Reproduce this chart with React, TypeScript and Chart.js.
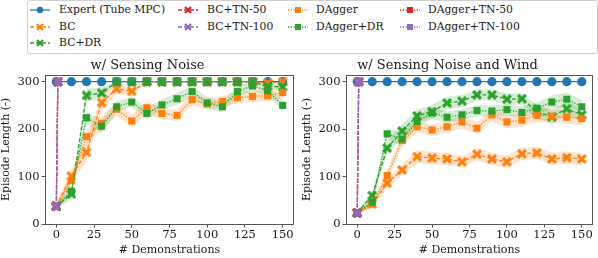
import React, { useEffect, useRef } from "react";
import { Chart, registerables } from "chart.js";
Chart.register(...registerables);

// ---------- data ----------
const demos = [0, 10, 20, 30, 40, 50, 60, 70, 80, 90, 100, 110, 120, 130, 140, 150];
const tnDemos = [0, 1];
const xTickValues = [0, 25, 50, 75, 100, 125, 150];
const yTickValues = [0, 100, 200, 300];
const seriesLabels = ["Expert (Tube MPC)", "BC", "BC+DR", "BC+TN-50", "BC+TN-100", "DAgger", "DAgger+DR", "DAgger+TN-50", "DAgger+TN-100"];
const panelTitles = ["w/ Sensing Noise", "w/ Sensing Noise and Wind"];
const xTitle = "# Demonstrations";
const yTitle = "Episode Length (-)";

// w/ Sensing Noise
const noiseExpert = [300, 300, 300, 300, 300, 300, 300, 300, 300, 300, 300, 300, 300, 300, 300, 300];
const noiseBC = [37, 101, 151, 256, 285, 280, 300, 300, 300, 300, 300, 300, 300, 300, 297, 300];
const noiseBCErr = [6, 14, 20, 18, 10, 12, 0, 0, 0, 0, 0, 0, 0, 0, 4, 3];
const noiseBCDR = [37, 63, 271, 276, 300, 300, 300, 300, 300, 300, 300, 300, 300, 300, 290, 289];
const noiseBCDRErr = [6, 10, 14, 12, 0, 0, 0, 0, 0, 0, 0, 0, 0, 0, 6, 6];
const noiseBCTN50 = [37, 300];
const noiseBCTN100 = [37, 300];
const noiseDAgger = [37, 92, 184, 212, 242, 217, 245, 233, 229, 262, 253, 258, 266, 269, 270, 277];
const noiseDAggerErr = [6, 12, 14, 15, 14, 13, 14, 12, 12, 12, 12, 12, 12, 12, 12, 12];
const noiseDAggerDR = [37, 69, 224, 206, 247, 257, 233, 251, 264, 279, 255, 247, 279, 291, 281, 250];
const noiseDAggerDRErr = [6, 8, 12, 14, 12, 10, 12, 12, 12, 12, 12, 12, 12, 10, 10, 12];
const noiseDAggerTN50 = [37, 300];
const noiseDAggerTN100 = [37, 300];

// w/ Sensing Noise and Wind
const windExpert = [300, 300, 300, 300, 300, 300, 300, 300, 300, 300, 300, 300, 300, 300, 300, 300];
const windBC = [24, 42, 86, 114, 142, 139, 137, 131, 147, 137, 131, 148, 150, 137, 140, 137];
const windBCErr = [4, 6, 10, 12, 14, 13, 13, 12, 13, 13, 13, 13, 13, 13, 13, 13];
const windBCDR = [24, 60, 160, 196, 228, 237, 255, 259, 272, 272, 263, 264, 237, 226, 243, 230];
const windBCDRErr = [4, 8, 14, 14, 14, 14, 13, 13, 12, 12, 12, 12, 14, 14, 14, 14];
const windBCTN50 = [23, 300];
const windBCTN100 = [23, 300];
const windDAgger = [24, 42, 102, 176, 205, 198, 205, 215, 202, 230, 215, 219, 229, 227, 225, 222];
const windDAggerErr = [4, 6, 12, 14, 12, 12, 13, 14, 13, 13, 14, 14, 14, 14, 14, 14];
const windDAggerDR = [24, 46, 190, 179, 216, 234, 225, 230, 239, 238, 241, 235, 244, 257, 263, 247];
const windDAggerDRErr = [4, 8, 12, 14, 12, 12, 12, 12, 12, 12, 12, 12, 12, 14, 14, 14];
const windDAggerTN50 = [23, 300];
const windDAggerTN100 = [23, 300];

// ---------- styles ----------
const BLUE = "#1f77b4";
const ORANGE = "#ff7f0e";
const GREEN = "#2ca02c";
const RED = "#d62728";
const PURPLE = "#9467bd";
const FONT = "'DejaVu Serif', serif";
const TEXT = "#1a1a1a";
const DASHED = [4, 2];
const DOTTED = [1.2, 1.6];

type Style = { color: string; dash: number[]; marker: "circle" | "x" | "square" };
const styles: Style[] = [
  { color: BLUE, dash: [], marker: "circle" },
  { color: ORANGE, dash: DASHED, marker: "x" },
  { color: GREEN, dash: DASHED, marker: "x" },
  { color: RED, dash: DASHED, marker: "x" },
  { color: PURPLE, dash: DASHED, marker: "x" },
  { color: ORANGE, dash: DOTTED, marker: "square" },
  { color: GREEN, dash: DOTTED, marker: "square" },
  { color: RED, dash: DOTTED, marker: "square" },
  { color: PURPLE, dash: DOTTED, marker: "square" },
];

function rgba(hex: string, a: number) {
  const n = parseInt(hex.slice(1), 16);
  return `rgba(${(n >> 16) & 255},${(n >> 8) & 255},${n & 255},${a})`;
}

function makeX(color: string, size: number) {
  const c = document.createElement("canvas");
  c.width = size;
  c.height = size;
  const ctx = c.getContext("2d")!;
  const w = size * 0.3;
  const r = size / 2 - w * 0.36;
  ctx.translate(size / 2, size / 2);
  ctx.strokeStyle = color;
  ctx.lineWidth = w;
  ctx.lineCap = "butt";
  ctx.beginPath();
  ctx.moveTo(-r, -r);
  ctx.lineTo(r, r);
  ctx.moveTo(-r, r);
  ctx.lineTo(r, -r);
  ctx.stroke();
  return c;
}

type PanelData = {
  title: string;
  series: { x: number[]; y: number[]; err?: number[] }[];
};

const panels: PanelData[] = [
  {
    title: panelTitles[0],
    series: [
      { x: demos, y: noiseExpert },
      { x: demos, y: noiseBC, err: noiseBCErr },
      { x: demos, y: noiseBCDR, err: noiseBCDRErr },
      { x: tnDemos, y: noiseBCTN50 },
      { x: tnDemos, y: noiseBCTN100 },
      { x: demos, y: noiseDAgger, err: noiseDAggerErr },
      { x: demos, y: noiseDAggerDR, err: noiseDAggerDRErr },
      { x: tnDemos, y: noiseDAggerTN50 },
      { x: tnDemos, y: noiseDAggerTN100 },
    ],
  },
  {
    title: panelTitles[1],
    series: [
      { x: demos, y: windExpert },
      { x: demos, y: windBC, err: windBCErr },
      { x: demos, y: windBCDR, err: windBCDRErr },
      { x: tnDemos, y: windBCTN50 },
      { x: tnDemos, y: windBCTN100 },
      { x: demos, y: windDAgger, err: windDAggerErr },
      { x: demos, y: windDAggerDR, err: windDAggerDRErr },
      { x: tnDemos, y: windDAggerTN50 },
      { x: tnDemos, y: windDAggerTN100 },
    ],
  },
];

const framePlugin = {
  id: "frame",
  afterDatasetsDraw(chart: any) {
    const { ctx, chartArea: a } = chart;
    ctx.save();
    ctx.strokeStyle = "#555";
    ctx.lineWidth = 1;
    ctx.strokeRect(Math.round(a.left) + 0.5, Math.round(a.top) + 0.5, Math.round(a.right - a.left) - 1, Math.round(a.bottom - a.top));
    ctx.restore();
  },
};

function Panel({ data, left, yAxisWidth, padRight, yTitlePad }: { data: PanelData; left: number; yAxisWidth: number; padRight: number; yTitlePad: number }) {
  const ref = useRef<HTMLCanvasElement>(null);
  useEffect(() => {
    const datasets: any[] = [];
    // bands
    data.series.forEach((s, k) => {
      if (!s.err) return;
      const st = styles[k];
      datasets.push({
        label: "band-u",
        data: s.x.map((x, i) => ({ x, y: s.y[i] + s.err![i] })),
        borderWidth: 0,
        pointRadius: 0,
        backgroundColor: rgba(st.color, 0.2),
        borderColor: "rgba(0,0,0,0)",
        fill: false,
        order: 300,
      });
      datasets.push({
        label: "band-l",
        data: s.x.map((x, i) => ({ x, y: s.y[i] - s.err![i] })),
        borderWidth: 0,
        pointRadius: 0,
        backgroundColor: rgba(st.color, 0.2),
        borderColor: "rgba(0,0,0,0)",
        fill: "-1",
        order: 300,
      });
    });
    data.series.forEach((s, k) => {
      const st = styles[k];
      const ps = st.marker === "circle" ? "circle" : st.marker === "square" ? "rect" : makeX(st.color, 10);
      datasets.push({
        label: seriesLabels[k],
        data: s.x.map((x, i) => ({ x, y: s.y[i] })),
        borderColor: st.color,
        borderDash: st.dash,
        borderWidth: 1.3,
        backgroundColor: st.color,
        pointStyle: ps,
        pointRadius: st.marker === "circle" ? 4.6 : 5,
        pointBackgroundColor: st.color,
        pointBorderColor: st.color,
        pointBorderWidth: 0,
        fill: false,
        tension: 0,
        order: 100 - k,
      });
    });
    const chart = new Chart(ref.current!, {
      type: "line",
      data: { datasets },
      plugins: [framePlugin],
      options: {
        animation: false,
        responsive: false,
        maintainAspectRatio: false,
        layout: { padding: { left: 0, right: padRight, top: 0, bottom: 0 } },
        plugins: {
          legend: { display: false },
          tooltip: { enabled: false },
          filler: { drawTime: "beforeDatasetsDraw" } as any,
          title: {
            display: true,
            text: data.title,
            color: TEXT,
            font: { family: FONT, size: 13, weight: "normal" as any },
            padding: { top: 2, bottom: 1.4 },
          },
        },
        scales: {
          x: {
            type: "linear",
            min: -7.5,
            max: 157.5,
            afterBuildTicks: (s: any) => {
              s.ticks = xTickValues.map((v) => ({ value: v }));
            },
            afterFit: (s: any) => {
              s.height = 34;
            },
            grid: { display: true, drawOnChartArea: false, drawTicks: true, tickLength: 3.5, color: "#555" },
            border: { display: false },
            ticks: {
              color: TEXT,
              font: { family: FONT, size: 11.5 },
              padding: 0.5,
              maxRotation: 0,
              autoSkip: false,
              callback: (v: any) => String(v),
            },
            title: {
              display: true,
              text: xTitle,
              color: TEXT,
              font: { family: FONT, size: 11 },
              padding: { top: 0, bottom: 1 },
            },
          },
          y: {
            type: "linear",
            min: 0,
            max: 314,
            afterBuildTicks: (s: any) => {
              s.ticks = yTickValues.map((v) => ({ value: v }));
            },
            afterFit: (s: any) => {
              s.width = yAxisWidth;
            },
            grid: { display: true, drawOnChartArea: false, drawTicks: true, tickLength: 3.5, color: "#555" },
            border: { display: false },
            ticks: {
              color: TEXT,
              font: { family: FONT, size: 11.5 },
              padding: 2,
              callback: (v: any) => String(v),
            },
            title: {
              display: true,
              text: yTitle,
              color: TEXT,
              font: { family: FONT, size: 11 },
              padding: { top: yTitlePad, bottom: 0 },
            },
          },
        },
      },
    });
    return () => chart.destroy();
  }, []);
  return (
    <div style={{ position: "absolute", left, top: 56, width: 299, height: 202 }}>
      <canvas ref={ref} width={299} height={202} style={{ display: "block" }} />
    </div>
  );
}

function LegendIcon({ st }: { st: Style }) {
  const c = st.color;
  let marker: any;
  if (st.marker === "circle") marker = <circle cx={10} cy={5} r={3.2} fill={c} />;
  else if (st.marker === "square") marker = <rect x={7} y={2} width={6} height={6} fill={c} />;
  else
    marker = (
      <g stroke={c} strokeWidth={2.2}>
        <line x1={7} y1={2} x2={13} y2={8} />
        <line x1={7} y1={8} x2={13} y2={2} />
      </g>
    );
  return (
    <svg width={20} height={10} style={{ display: "block" }}>
      <line x1={0} y1={5} x2={20} y2={5} stroke={c} strokeWidth={1.3} strokeDasharray={st.dash.length ? st.dash.join(",") : undefined} />
      {marker}
    </svg>
  );
}

const legendCols = [
  [0, 1, 2],
  [3, 4],
  [5, 6],
  [7, 8],
];
const legendIconX = [30, 178, 288, 400];
const legendTextX = [59, 207, 316, 428];
const legendRowY = [10, 26.5, 43];

export default function App() {
  return (
    <div style={{ position: "absolute", left: 0, top: 0, width: 598, height: 258, background: "#fff", overflow: "hidden" }}>
      <div
        style={{
          position: "absolute",
          left: 27,
          top: 0,
          width: 571,
          height: 54,
          border: "1px solid #d0d0d0",
          borderRadius: 3,
          boxSizing: "border-box",
        }}
      />
      {legendCols.map((col, ci) =>
        col.map((k, ri) => (
          <React.Fragment key={k}>
            <div style={{ position: "absolute", left: legendIconX[ci], top: legendRowY[ri] - 5 }}>
              <LegendIcon st={styles[k]} />
            </div>
            <div
              style={{
                position: "absolute",
                left: legendTextX[ci],
                top: legendRowY[ri] - 7,
                height: 14,
                lineHeight: "14px",
                fontFamily: FONT,
                fontSize: 10.8,
                color: TEXT,
                whiteSpace: "nowrap",
              }}
            >
              {seriesLabels[k]}
            </div>
          </React.Fragment>
        ))
      )}
      <Panel data={panels[0]} left={0} yAxisWidth={45} padRight={4} yTitlePad={0} />
      <Panel data={panels[1]} left={299} yAxisWidth={47} padRight={2} yTitlePad={2} />
    </div>
  );
}
